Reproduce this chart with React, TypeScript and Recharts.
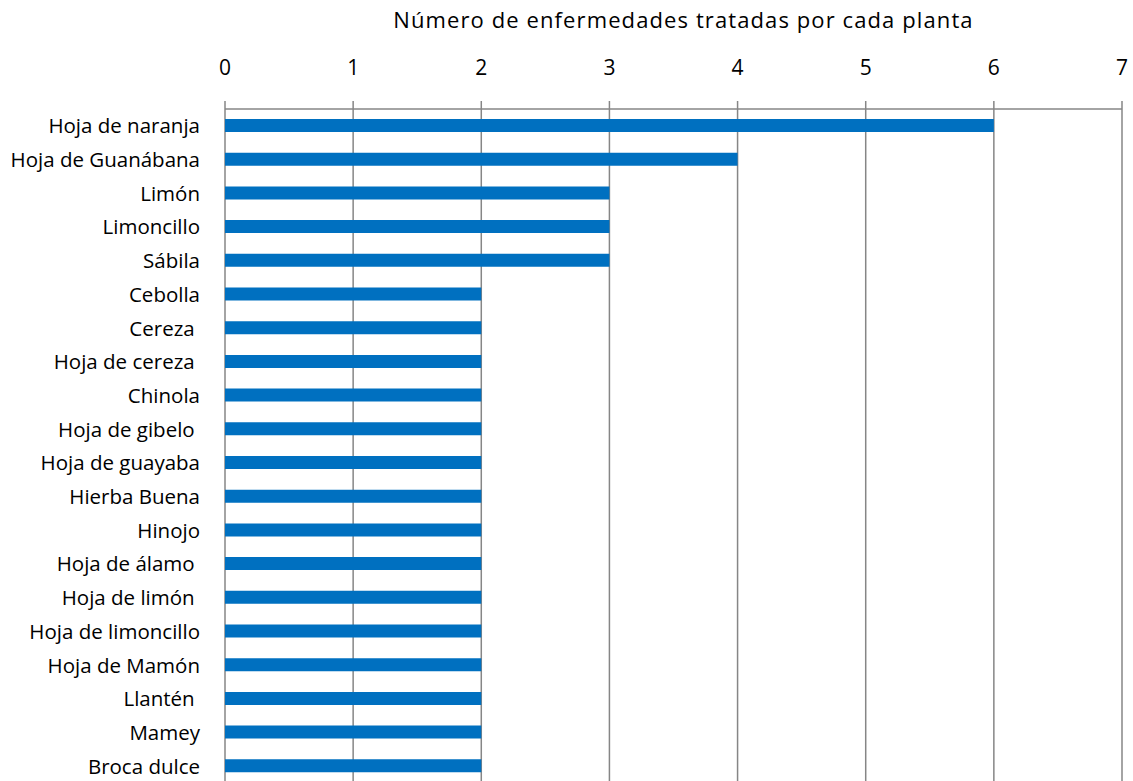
import React from 'react';
import { BarChart, Bar, XAxis, YAxis, CartesianGrid } from 'recharts';

const plants = [
  'Hoja de naranja',
  'Hoja de Guanábana',
  'Limón',
  'Limoncillo',
  'Sábila',
  'Cebolla',
  'Cereza ',
  'Hoja de cereza ',
  'Chinola',
  'Hoja de gibelo ',
  'Hoja de guayaba',
  'Hierba Buena',
  'Hinojo',
  'Hoja de álamo ',
  'Hoja de limón ',
  'Hoja de limoncillo',
  'Hoja de Mamón',
  'Llantén ',
  'Mamey',
  'Broca dulce',
];

const diseaseCounts = [6, 4, 3, 3, 3, 2, 2, 2, 2, 2, 2, 2, 2, 2, 2, 2, 2, 2, 2, 2];

const xTicks = [0, 1, 2, 3, 4, 5, 6, 7];

const title = 'Número de enfermedades tratadas por cada planta';

const FONT = '"Open Sans", sans-serif';
const GRID = '#868686';

const chartData = plants.map((name, i) => ({ name, value: diseaseCounts[i] }));

// keep the trailing spaces of some labels, like the original
const PlantTick = (props: any) => {
  const { x, y, payload } = props;
  return (
    <text
      x={x}
      y={y}
      dy={7.5}
      textAnchor="end"
      fill="#000"
      fontSize={20.5}
      fontFamily={FONT}
      style={{ whiteSpace: 'pre' }}
    >
      {payload.value}
    </text>
  );
};

const App: React.FC = () => {
  return (
    <div style={{ position: 'absolute', left: 0, top: 0, width: 1133, height: 781, overflow: 'hidden', background: '#fff' }}>
      <div
        style={{
          position: 'absolute',
          left: 235,
          width: 897,
          top: 4,
          textAlign: 'center',
          fontFamily: FONT,
          fontSize: 22,
          letterSpacing: 1.1,
          color: '#000',
        }}
      >
        {title}
      </div>
      <BarChart
        width={1133}
        height={783}
        data={chartData}
        layout="vertical"
        margin={{ top: 0, right: 11, bottom: 0, left: 0 }}
      >
        <CartesianGrid horizontal={false} stroke={GRID} strokeWidth={1.5} />
        <XAxis
          type="number"
          orientation="top"
          domain={[0, 7]}
          ticks={xTicks}
          interval={0}
          height={109}
          axisLine={{ stroke: GRID, strokeWidth: 1.5 }}
          tickLine={{ stroke: GRID, strokeWidth: 1.5 }}
          tickSize={8}
          tickMargin={26}
          tick={{ fill: '#000', fontSize: 21, fontFamily: FONT }}
        />
        <YAxis
          type="category"
          dataKey="name"
          width={225}
          axisLine={false}
          tickLine={false}
          tickSize={0}
          tickMargin={25}
          interval={0}
          tick={<PlantTick />}
        />
        <Bar dataKey="value" fill="#0070C0" barSize={13} isAnimationActive={false} />
      </BarChart>
    </div>
  );
};

export default App;
